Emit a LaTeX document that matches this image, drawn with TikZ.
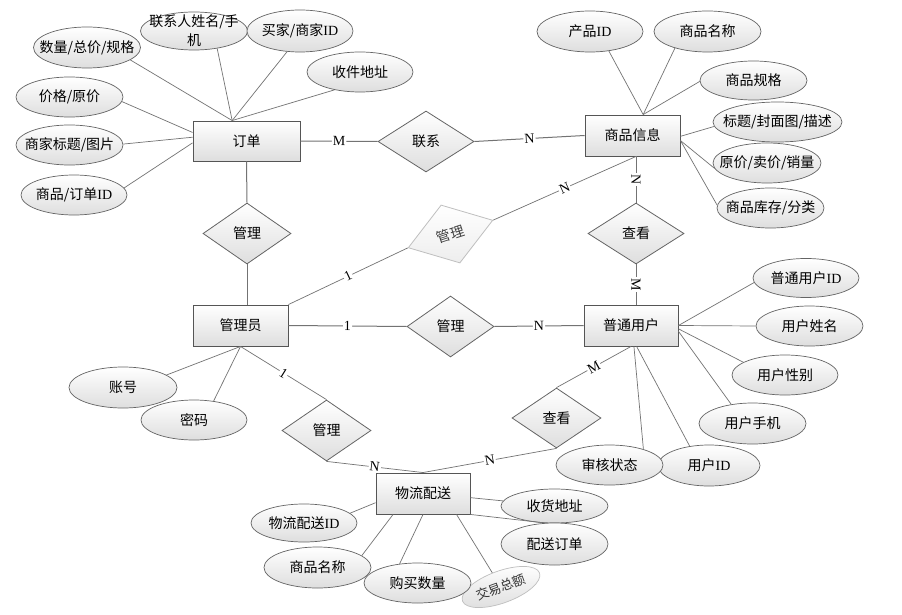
\documentclass[tikz,border=0pt]{standalone}
\usepackage{fontspec}
\setmainfont{Noto Sans CJK SC}
\newfontfamily\latin{Liberation Serif}
\usepackage{tikz}
\usetikzlibrary{shapes.geometric}
\definecolor{boxline}{RGB}{85,85,85}
\definecolor{attrline}{RGB}{100,100,100}
\definecolor{linecolor}{RGB}{115,115,115}
\definecolor{fillbot}{RGB}{222,222,222}

\begin{document}
\begin{tikzpicture}[
    x=1pt, y=-1pt,
    font=\fontsize{14pt}{16pt}\selectfont,
    entity/.style={rectangle, draw=boxline, line width=0.9pt, top color=white, bottom color=fillbot, minimum width=95pt, minimum height=41pt, inner sep=0pt},
    attr/.style={ellipse, draw=attrline, line width=0.7pt, top color=white, bottom color=fillbot, minimum width=107pt, minimum height=40pt, inner xsep=-20pt, inner ysep=-8pt, align=center},
    rel/.style={diamond, draw=attrline, line width=0.8pt, top color=white, bottom color=fillbot, minimum width=89pt, minimum height=61pt, inner sep=0pt},
    link/.style={draw=linecolor, line width=1pt},
    attrlink/.style={draw=linecolor, line width=0.7pt},
    card/.style={fill=white, inner sep=1pt, sloped, font=\latin\fontsize{14pt}{14pt}\selectfont}
]
\fill[white] (0,0) rectangle (902,615);
\useasboundingbox (0,0) rectangle (902,615);

% entities
\node[entity, minimum width=107pt, minimum height=40pt] (order) at (246.5,141) {订单};
\node[entity] (goods) at (632.5,135.5) {商品信息};
\node[entity] (admin) at (240.5,325.5) {管理员};
\node[entity, minimum width=94pt] (user) at (631,325.5) {普通用户};
\node[entity, minimum width=94pt] (logis) at (423,493.5) {物流配送};

% relationships
\node[rel, minimum width=96pt] (contact) at (426,141.5) {联系};
\node[rel, minimum width=88pt] (manage1) at (247,233.5) {管理};
\node[rel, rotate=18, draw=gray!50, bottom color=black!7, text=black!75] (manage2) at (450.5,234) {管理};
\node[rel, minimum width=96pt] (view1) at (636,233.5) {查看};
\node[rel, minimum width=87pt] (manage3) at (450.5,326.5) {管理};
\node[rel] (manage4) at (326.5,430.5) {管理};
\node[rel, minimum height=60pt] (view2) at (556.5,418) {查看};

% attributes of order
\node[attr, minimum height=41pt] (qty) at (87,47.5) {数量/总价/规格};
\node[attr, minimum height=38pt] (person) at (194,31) {联系人姓名/手\\[3pt]机};
\node[attr, minimum height=42pt, minimum width=106pt] (buyer) at (300,31) {买家/商家{\latin ID}};
\node[attr, minimum width=106pt] (addr) at (360,72) {收件地址};
\node[attr] (price) at (69.5,97) {价格/原价};
\node[attr] (title) at (69.5,145) {商家标题/图片};
\node[attr, minimum width=106pt] (goodsid) at (74,195) {商品/订单{\latin ID}};

% attributes of goods
\node[attr, minimum width=106pt, minimum height=41pt] (pid) at (590,31.5) {产品{\latin ID}};
\node[attr, minimum height=41pt] (gname) at (707.5,31.5) {商品名称};
\node[attr, minimum height=39pt] (spec) at (753.5,80.5) {商品规格};
\node[attr, minimum width=129pt] (tdesc) at (777.5,122) {标题/封面图/描述};
\node[attr, minimum width=108pt] (price2) at (767,163) {原价/卖价/销量};
\node[attr] (stock) at (770.5,208) {商品库存/分类};

% attributes of admin
\node[attr, minimum width=108pt, minimum height=41pt] (account) at (123,387.5) {账号};
\node[attr, minimum width=106pt] (pwd) at (194,420) {密码};

% attributes of user
\node[attr, minimum width=106pt, minimum height=39pt] (uid2) at (806,278) {普通用户{\latin ID}};
\node[attr] (uname) at (809.5,326) {用户姓名};
\node[attr, minimum width=106pt] (usex) at (785,375) {用户性别};
\node[attr, minimum height=41pt] (uphone) at (752.5,423.5) {用户手机};
\node[attr, minimum width=102pt, minimum height=41pt] (userid) at (709,465.5) {用户{\latin ID}};
\node[attr] (status) at (609.5,465) {审核状态};

% attributes of logistics
\node[attr, minimum width=106pt, minimum height=38pt] (lid) at (304,523) {物流配送{\latin ID}};
\node[attr, minimum height=41pt] (gname2) at (317.5,567.5) {商品名称};
\node[attr, rotate=20, minimum width=82pt, minimum height=32pt, draw=gray!50, text=black!80, font=\fontsize{13pt}{15pt}\selectfont] (total) at (501,587) {交易总额};
\node[attr] (qty2) at (417.5,583) {购买数量};
\node[attr, minimum height=34pt] (recv) at (554.5,506) {收货地址};
\node[attr, minimum height=42pt] (dorder) at (554.5,544) {配送订单};

% attribute lines
\draw[attrlink] (qty.-16) -- (order.125);
\draw[attrlink] (person.-37) -- (order.125);
\draw[attrlink] (buyer.-122) -- (order.125);
\draw[attrlink] (addr.-145) -- (order.125);
\draw[attrlink] (price.-5) -- (order.171);
\draw[attrlink] (title.1) -- (order.176);
\draw[attrlink] (goodsid.8) -- (order.182);

\draw[attrlink] (pid.-46) -- (goods.63);
\draw[attrlink] (gname.-153) -- (goods.63);
\draw[attrlink] (spec.181) -- (goods.63);
\draw[attrlink] (tdesc.184) -- (goods.-1);
\draw[attrlink] (price2.186) -- (goods.-6);
\draw[attrlink] (stock.177) -- (goods.-6);

\draw[attrlink] (account.16) -- (admin.south);
\draw[attrlink] (pwd.44) -- (admin.south);

\draw[attrlink] (uid2.185) -- (user.east);
\draw[attrlink] (uname.180) -- (user.east);
\draw[attrlink] (usex.163) -- (user.-4);
\draw[attrlink] (uphone.138) -- (user.-7);
\draw[attrlink] (userid.135) -- (user.-75);
\draw[attrlink] (status.25) -- (user.-82);

\draw[attrlink] (lid.12) -- (logis.191);
\draw[attrlink] (gname2.15) -- (logis.215);
\draw[attrlink] (qty2.133) -- (logis.south);
\draw[attrlink] (total) -- (logis.-32);
\draw[attrlink] (recv) -- (logis.-5);
\draw[attrlink] (dorder.114) -- (logis.south east);

% relationship lines
\draw[link] (order.east) -- node[card] {M} (contact.west);
\draw[link] (contact.east) -- node[card] {N} (goods.west);
\draw[link] (order.south) -- (manage1.north);
\draw[link] (manage1.south) -- (admin.north -| manage1.south);
\draw[link, line width=0.7pt] (admin.north east) -- node[card] {1} (manage2.west);
\draw[link, line width=0.7pt] (manage2.east) -- node[card] {N} (goods.south -| view1.north);
\draw[link] (goods.south -| view1.north) -- node[card] {N} (view1.north);
\draw[link] (view1.south) -- node[card] {M} (user.north -| view1.south);
\draw[link] (admin.east) -- node[card] {1} (manage3.west);
\draw[link] (manage3.east) -- node[card] {N} (user.west);
\draw[link, line width=0.7pt] (admin.south) -- node[card] {1} (manage4.north);
\draw[link, line width=0.7pt] (manage4.south) -- node[card] {N} (logis.north);
\draw[link, line width=0.7pt] (user.south) -- node[card] {M} (view2.north);
\draw[link, line width=0.7pt] (view2.south) -- node[card] {N} (logis.north);

\end{tikzpicture}
\end{document}
